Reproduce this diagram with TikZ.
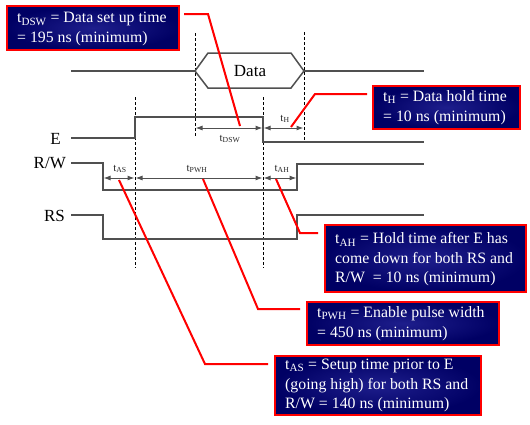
\documentclass[tikz,border=0pt]{standalone}
\usepackage{fontspec}
\setmainfont{Liberation Serif}
\usetikzlibrary{arrows.meta}
\definecolor{navyin}{RGB}{30,30,140}
\definecolor{navyout}{RGB}{0,0,100}
\definecolor{sig}{RGB}{80,80,80}
\tikzset{
  calloutbox/.style={draw=red, line width=2pt, inner color=navyin, outer color=navyout,
    anchor=north west, inner sep=0pt},
  callouttext/.style={anchor=west, text=white, align=left, inner sep=0pt,
    font=\fontsize{15.8}{19.5}\selectfont},
  callline/.style={draw=red, line width=2pt},
  signal/.style={draw=sig, line width=1.5pt},
  guide/.style={draw=black, line width=0.8pt, dash pattern=on 3pt off 2pt},
  dim/.style={draw=sig, line width=1pt, {Latex[length=7pt,width=5pt]}-{Latex[length=7pt,width=5pt]}, shorten <=0.5pt, shorten >=0.5pt},
  dimlabel/.style={font=\fontsize{11}{12}\selectfont, text=black!85, inner sep=1pt},
  siglabel/.style={font=\fontsize{17}{18}\selectfont, anchor=east, inner sep=0pt}
}
\begin{document}
\begin{tikzpicture}[x=1pt,y=-1pt]
\useasboundingbox (0,0) rectangle (530,424);
% guides
\draw[guide] (135,97) -- (135,268);
\draw[guide] (195,33) -- (195,137);
\draw[guide] (263,97) -- (263,268);
\draw[guide] (304,32) -- (304,140);
% data
\draw[signal] (195,71) -- (208,53) -- (291,53) -- (304,71) -- (291,88) -- (208,88) -- cycle;
\draw[signal] (71,71) -- (195,71);
\draw[signal] (304,71) -- (424,71);
\node[font=\fontsize{17}{18}\selectfont] (data) at (250,71) {Data};
% E
\node[siglabel] (lE) at (61,139) {E};
\draw[signal] (71,138) -- (135,138) -- (135,117) -- (263,117) -- (263,142) -- (424,142);
% R/W
\node[siglabel] (lRW) at (66,163) {R/W};
\draw[signal] (71,163) -- (103,163) -- (103,190) -- (297,190) -- (297,164) -- (424,164);
% RS
\node[siglabel] (lRS) at (65,216) {RS};
\draw[signal] (71,215) -- (103,215) -- (103,239) -- (297,239) -- (297,215) -- (424,215);
% dimension arrows
\coordinate (d1) at (195,128); \coordinate (d2) at (263,128); \coordinate (d3) at (304,128);
\draw[dim] (d1) -- (d2);
\draw[dim] (d2) -- (d3);
\coordinate (r1) at (103,178); \coordinate (r2) at (135,178); \coordinate (r3) at (263,178); \coordinate (r4) at (297,178);
\draw[dim] (r1) -- (r2);
\draw[dim] (r2) -- (r3);
\draw[dim] (r3) -- (r4);
\node[dimlabel] (tdsw) at (230,139) {t\textsubscript{DSW}};
\node[dimlabel] (th) at (285,119) {t\textsubscript{H}};
\node[dimlabel] (tas) at (120,169) {t\textsubscript{AS}};
\node[dimlabel] (tpwh) at (197,169) {t\textsubscript{PWH}};
\node[dimlabel] (tah) at (282,169) {t\textsubscript{AH}};
% callout boxes
\node[calloutbox, minimum width=172pt, minimum height=44pt] (b1) at (6,5) {};
\node[callouttext] (t1) at ([xshift=11pt,yshift=-1pt]b1.west)
  {t\textsubscript{DSW} = Data set up time\\= 195 ns (minimum)};
\node[calloutbox, minimum width=147pt, minimum height=43pt] (b2) at (372,85) {};
\node[callouttext] (t2) at ([xshift=11pt]b2.west)
  {t\textsubscript{H} = Data hold time\\= 10 ns (minimum)};
\node[calloutbox, minimum width=201pt, minimum height=67pt] (b3) at (324,224) {};
\node[callouttext] (t3) at ([xshift=11pt,yshift=-1pt]b3.west)
  {t\textsubscript{AH} = Hold time after E has\\come down for both RS and\\R/W\ \ = 10 ns (minimum)};
\node[calloutbox, minimum width=192pt, minimum height=43pt] (b4) at (306,301) {};
\node[callouttext] (t4) at ([xshift=11pt]b4.west)
  {t\textsubscript{PWH} = Enable pulse width\\= 450 ns (minimum)};
\node[calloutbox, minimum width=206pt, minimum height=59pt] (b5) at (274,355) {};
\node[callouttext] (t5) at ([xshift=11pt]b5.west)
  {t\textsubscript{AS} = Setup time prior to E\\(going high) for both RS and\\R/W = 140 ns (minimum)};
% callout connectors
\coordinate (c1a) at (184,14); \coordinate (c1b) at (208,14); \coordinate (c1c) at (240,126);
\draw[callline] (c1a) -- (c1b) -- (c1c);
\coordinate (c2a) at (367,94); \coordinate (c2b) at (315,94); \coordinate (c2c) at (291,127);
\draw[callline] (c2a) -- (c2b) -- (c2c);
\coordinate (c3a) at (318,233); \coordinate (c3b) at (300,233); \coordinate (c3c) at (276,179);
\draw[callline] (c3a) -- (c3b) -- (c3c);
\coordinate (c4a) at (300,309); \coordinate (c4b) at (258,309); \coordinate (c4c) at (203,179);
\draw[callline] (c4a) -- (c4b) -- (c4c);
\coordinate (c5a) at (268,364); \coordinate (c5b) at (205,364); \coordinate (c5c) at (119,180);
\draw[callline] (c5a) -- (c5b) -- (c5c);
\end{tikzpicture}
\end{document}
